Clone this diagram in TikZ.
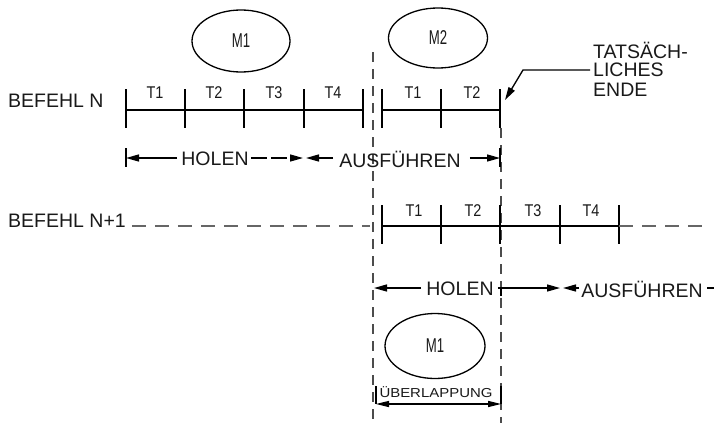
\documentclass[tikz,border=0pt]{standalone}
\usepackage{fontspec}
\setmainfont{Liberation Sans}
\usetikzlibrary{arrows.meta,shapes.geometric}
\begin{document}
\begin{tikzpicture}[x=1pt,y=-1pt,
  lbl/.style={font=\fontsize{19.5}{22}\selectfont, inner sep=0pt, text=black!90},
  tlbl/.style={font=\fontsize{17}{18}\selectfont, inner sep=0pt, text=black!90},
  mem/.style={ellipse, draw, line width=1.3pt, inner sep=0pt, font=\fontsize{20}{20}\selectfont, text=black!90},
  tline/.style={line width=2.2pt},
  tickm/.style={line width=1.3pt},
  vdash/.style={line width=1.2pt, dash pattern=on 10pt off 7pt, black!70},
  hdash/.style={line width=1.2pt, dash pattern=on 14pt off 9pt, black!60},
  arr/.style={line width=1.3pt, -{Triangle[length=13pt,width=7pt]}},
  plain/.style={line width=1.3pt},
]
\useasboundingbox (0,0) rectangle (720,423);

% ellipses
\node[mem, minimum width=98pt, minimum height=62pt] (m1a) at (241,41) {\scalebox{0.66}[1]{M1}};
\node[mem, minimum width=99pt, minimum height=60pt] (m2) at (438,38) {\scalebox{0.66}[1]{M2}};
\node[mem, minimum width=100pt, minimum height=65pt] (m1b) at (435,346) {\scalebox{0.66}[1]{M1}};

% labels
\node[lbl, anchor=west] (bn) at (8,101) {BEFEHL N};
\node[lbl, anchor=west] (bn1) at (8,221) {BEFEHL N+1};
\node[lbl, anchor=west] (te1) at (593,50) {TATSÄCH-};
\node[lbl, anchor=west] (te2) at (593,70) {LICHES};
\node[lbl, anchor=west] (te3) at (593,90) {ENDE};

% vertical dashed lines
\coordinate (va) at (373,52);
\coordinate (vb) at (373,423);
\coordinate (wa) at (501,128);
\coordinate (wb) at (501,423);
\draw[vdash] (va) -- (vb);
\draw[vdash] (wa) -- (wb);

% row 1 timeline
\foreach \x/\n in {126/a0,185/a1,244/a2,304/a3,363/a4,382/b0,441/b1,500/b2}{
  \coordinate (\n t) at (\x,89);
  \coordinate (\n b) at (\x,128);
  \coordinate (\n) at (\x,110);
  \draw[tickm] (\n t) -- (\n b);
}
\draw[tline] (a0) -- (a4);
\draw[tline] (b0) -- (b2);
\node[tlbl] (r1t1) at (155,93) {\scalebox{0.85}[1]{T1}};
\node[tlbl] (r1t2) at (214,93) {\scalebox{0.85}[1]{T2}};
\node[tlbl] (r1t3) at (274,93) {\scalebox{0.85}[1]{T3}};
\node[tlbl] (r1t4) at (333,93) {\scalebox{0.85}[1]{T4}};
\node[tlbl] (r1t5) at (413,93) {\scalebox{0.85}[1]{T1}};
\node[tlbl] (r1t6) at (472,93) {\scalebox{0.85}[1]{T2}};

% row 1 arrows
\node[lbl] (hol1) at (215,159) {HOLEN};
\node[lbl] (aus1) at (400,159) {AUSFÜHREN};
\coordinate (h1l) at (126,158);
\coordinate (h1lt) at (126,148);
\coordinate (h1lb) at (126,167);
\coordinate (h1r) at (303,158);
\coordinate (a1l) at (306,158);
\coordinate (a1r) at (500,158);
\coordinate (a1rt) at (500,148);
\coordinate (a1rb) at (500,167);
\draw[plain] (h1lt) -- (h1lb);
\draw[plain] (a1rt) -- (a1rb);
\draw[arr] ([xshift=-4pt]hol1.west |- h1l) -- (h1l);
\draw[arr, dash pattern=on 16pt off 4pt] ([xshift=2pt]hol1.east |- h1l) -- (h1r);
\draw[arr] ([xshift=-6pt]aus1.west |- a1l) -- (a1l);
\draw[arr] ([xshift=9pt]aus1.east |- a1r) -- (a1r);

% TATSAECHLICHES ENDE arrow
\coordinate (tk) at (523,70);
\coordinate (tt) at (505,100);
\draw[arr] ([xshift=-3pt]te2.west) -- (tk) -- (tt);

% row 2 timeline
\foreach \x/\n in {382/c0,441/c1,500/c2,560/c3,619/c4}{
  \coordinate (\n t) at (\x,205);
  \coordinate (\n b) at (\x,244);
  \coordinate (\n) at (\x,226);
  \draw[tickm] (\n t) -- (\n b);
}
\draw[tline] (c0) -- (c4);
\coordinate (d1) at (370,226);
\coordinate (d2) at (705,226);
\draw[hdash] ([xshift=6pt]bn1.east |- d1) -- (d1);
\draw[hdash] (c4) -- (d2);
\node[tlbl] (r2t1) at (414,211) {\scalebox{0.85}[1]{T1}};
\node[tlbl] (r2t2) at (473,211) {\scalebox{0.85}[1]{T2}};
\node[tlbl] (r2t3) at (533,211) {\scalebox{0.85}[1]{T3}};
\node[tlbl] (r2t4) at (591,211) {\scalebox{0.85}[1]{T4}};

% row 2 arrows
\node[lbl] (hol2) at (460,289) {HOLEN};
\node[lbl] (aus2) at (642,289) {AUSFÜHREN};
\coordinate (h2l) at (374,288);
\coordinate (h2r) at (560,288);
\coordinate (a2l) at (563,288);
\coordinate (a2e1) at (707,288);
\coordinate (a2e2) at (714,288);
\coordinate (tm) at (501,288);
\coordinate (tmb) at (501,296);
\draw[arr] ([xshift=-5pt]hol2.west |- h2l) -- (h2l);
\draw[arr] ([xshift=4pt]hol2.east |- h2r) -- (h2r);
\draw[plain] (tm) -- (tmb);
\draw[arr] ([xshift=-2pt]aus2.west |- a2l) -- (a2l);
\draw[plain] (a2e1) -- (a2e2);

% overlap
\node[inner sep=0pt, font=\fontsize{13}{14}\selectfont, text=black!90] (ov) at (436,392) {\scalebox{1.15}[1]{ÜBERLAPPUNG}};
\coordinate (ol) at (376,404);
\coordinate (or) at (501,404);
\coordinate (olt) at (376,386);
\coordinate (ort) at (501,386);
\draw[plain] (olt) -- (ol);
\draw[plain] (ort) -- (or);
\draw[line width=1.3pt, {Triangle[length=13pt,width=6pt]}-{Triangle[length=13pt,width=6pt]}] (ol) -- (or);
\end{tikzpicture}
\end{document}
